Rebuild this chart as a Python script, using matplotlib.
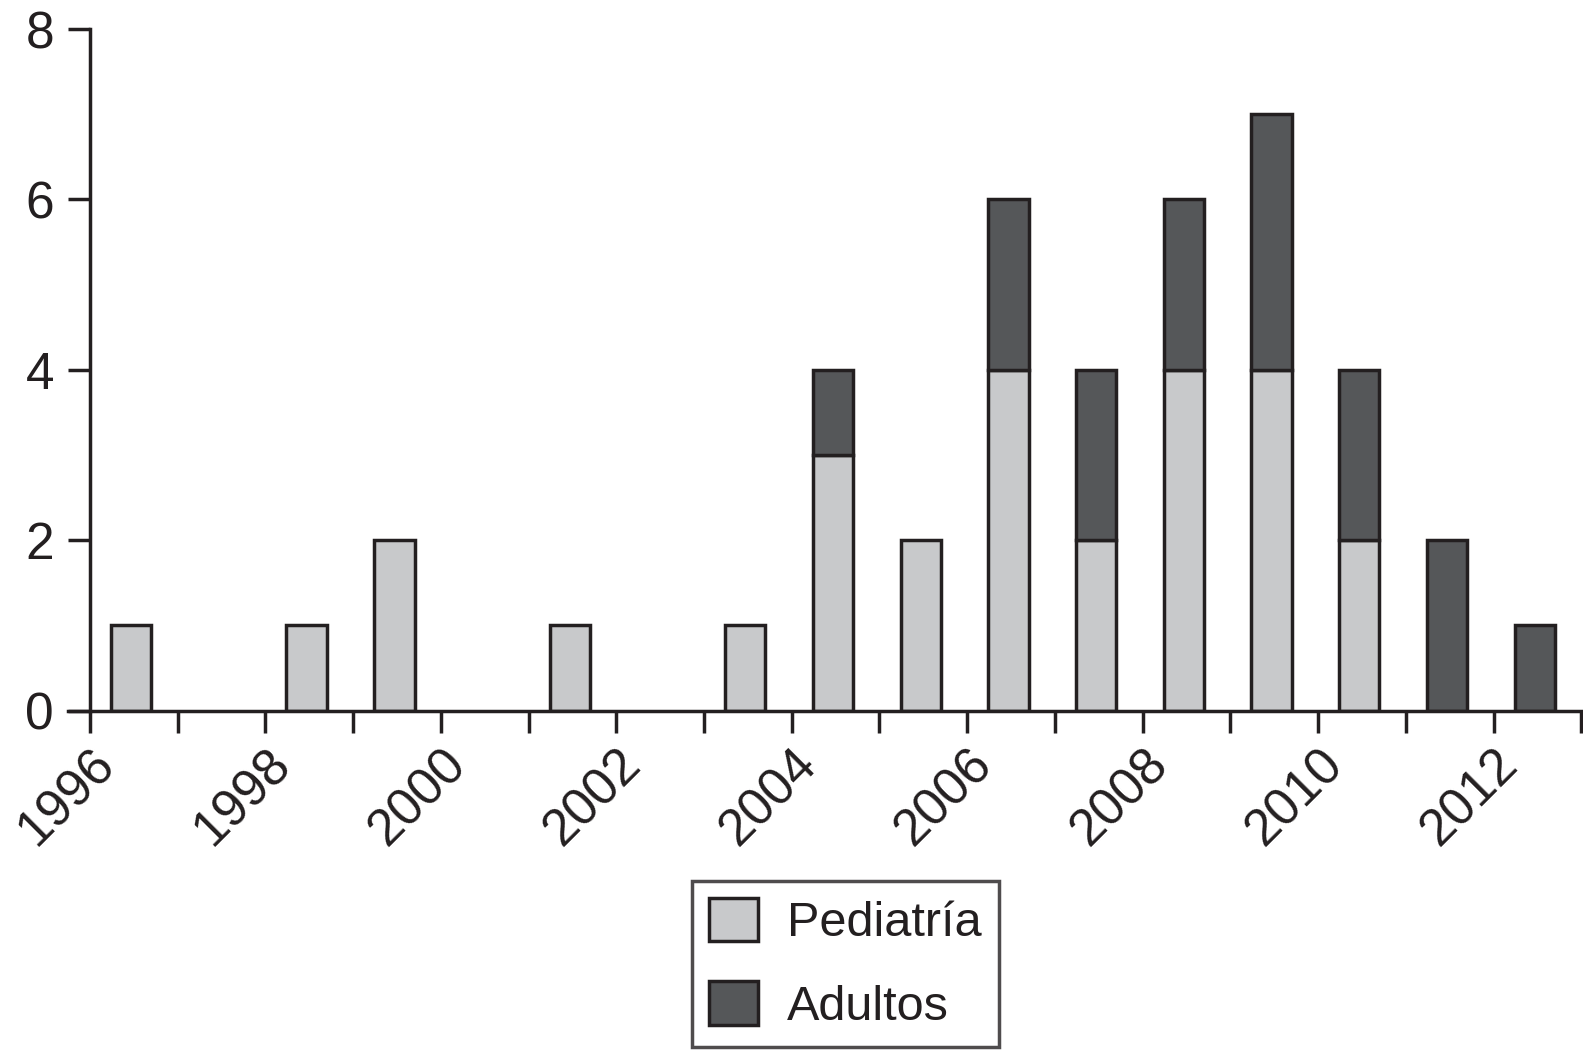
import matplotlib
matplotlib.use("Agg")
import matplotlib.pyplot as plt
import numpy as np

years = [1996, 1997, 1998, 1999, 2000, 2001, 2002, 2003, 2004, 2005, 2006, 2007, 2008, 2009, 2010, 2011, 2012]
pediatria = [1, 0, 1, 2, 0, 1, 0, 1, 3, 2, 4, 2, 4, 4, 2, 0, 0]
adultos = [0, 0, 0, 0, 0, 0, 0, 0, 1, 0, 2, 2, 2, 3, 2, 2, 1]
labels = ["Pediatría", "Adultos"]
yticks = [0, 2, 4, 6, 8]

plt.rcParams['font.family'] = ['Liberation Sans', 'DejaVu Sans']

fig = plt.figure(figsize=(15.83, 10.56), dpi=100)
ax = fig.add_axes([0.043, 0.327, 0.957, 0.6455])

light = '#c8c9cb'
dark = '#555759'
edge = '#231f20'
lw = 2.5

x = np.array(years) + 0.47
p = np.array(pediatria)
a = np.array(adultos)
mp = p > 0
ma = a > 0
ax.bar(x[mp], p[mp], width=0.46, color=light, edgecolor=edge, linewidth=lw, label=labels[0], zorder=3)
ax.bar(x[ma], a[ma], width=0.46, bottom=p[ma], color=dark, edgecolor=edge, linewidth=lw, label=labels[1], zorder=3)

ax.set_xlim(1995.75, 2013.02)
ax.set_ylim(0, 8)
ax.spines['top'].set_visible(False)
ax.spines['right'].set_visible(False)
ax.spines['left'].set_position(('data', 1996))
for s in ['left', 'bottom']:
    ax.spines[s].set_linewidth(lw)
    ax.spines[s].set_color(edge)
    ax.spines[s].set_zorder(4)

ax.set_xticks(np.arange(1996, 2014))
ax.set_xticklabels([str(y) if (y - 1996) % 2 == 0 else "" for y in range(1996, 2014)])
ax.set_yticks(yticks)
ax.set_yticklabels([str(v) for v in yticks])
ax.tick_params(axis='both', length=16, width=lw, color=edge, labelsize=37, labelcolor=edge)
ax.tick_params(axis='x', pad=5)
ax.tick_params(axis='y', pad=10)
for lab in ax.get_xticklabels():
    lab.set_rotation(45)
    lab.set_ha('right')
    lab.set_va('top')
    lab.set_rotation_mode('anchor')

leg = fig.legend(loc='upper center', bbox_to_anchor=(0.534, 0.166), fontsize=35,
                 frameon=True, fancybox=False, edgecolor=edge, handlelength=1.0,
                 handleheight=1.0, handletextpad=0.6, borderpad=0.35, labelspacing=0.72,
                 borderaxespad=0)
leg.get_frame().set_linewidth(lw)
for h in leg.legend_handles:
    h.set_linewidth(lw)
for t in leg.get_texts():
    t.set_color(edge)

fig.savefig('out.png', dpi=100)
